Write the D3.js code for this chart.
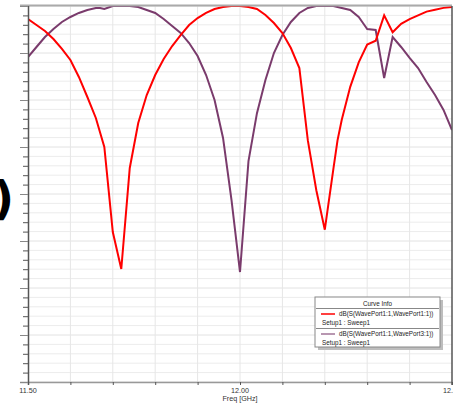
<!DOCTYPE html>
<html><head><meta charset="utf-8">
<script src="https://cdn.jsdelivr.net/npm/d3@7"></script>
<style>
html,body{margin:0;padding:0;background:#fff;overflow:hidden}
svg{display:block;font-family:"Liberation Sans",Arial,sans-serif}
</style></head>
<body>
<script>
// ---- data ----
const freqS11 = [11.50,11.52,11.54,11.56,11.58,11.60,11.62,11.64,11.66,11.68,11.70,11.72,11.74,11.76,11.78,11.80,11.82,11.84,11.86,11.88,11.90,11.92,11.94,11.96,11.98,12.00,12.02,12.04,12.06,12.08,12.10,12.12,12.14,12.16,12.18,12.20,12.22,12.23,12.24,12.26,12.28,12.30,12.32,12.34,12.36,12.38,12.40,12.42,12.44,12.46,12.48,12.50];
const dbS11 = [-1.38,-2.02,-2.66,-3.51,-4.57,-5.74,-7.55,-9.68,-11.91,-15.0,-24.04,-27.98,-17.23,-12.45,-9.47,-7.34,-5.64,-4.26,-3.09,-2.02,-1.28,-0.74,-0.32,-0.11,0,0,-0.11,-0.32,-0.96,-1.81,-2.87,-4.47,-6.6,-14.3,-19.6,-23.8,-17.4,-14.3,-12.1,-8.6,-6.0,-4.1,-3.7,-1.0,-2.8,-1.9,-1.4,-1.0,-0.6,-0.4,-0.2,-0.1];
const freqS31 = [11.50,11.52,11.54,11.56,11.58,11.60,11.62,11.64,11.66,11.67,11.68,11.70,11.72,11.74,11.76,11.78,11.80,11.82,11.84,11.86,11.88,11.90,11.92,11.94,11.96,11.98,12.00,12.02,12.04,12.06,12.08,12.10,12.12,12.14,12.16,12.18,12.20,12.22,12.24,12.26,12.28,12.29,12.30,12.32,12.34,12.36,12.38,12.40,12.42,12.44,12.46,12.48,12.50];
const dbS31 = [-5.43,-4.36,-3.30,-2.45,-1.70,-1.17,-0.74,-0.43,-0.21,-0.21,-0.32,0,0,0,-0.11,-0.43,-0.74,-1.38,-2.13,-2.87,-3.94,-5.32,-7.34,-10.0,-14.04,-20.64,-28.30,-16.5,-11.4,-7.87,-5.0,-3.09,-1.70,-0.74,-0.21,0,0,0,-0.21,-0.43,-1.17,-1.81,-2.45,-2.55,-7.66,-3.30,-4.36,-5.53,-6.60,-8.09,-9.47,-11.06,-13.19];
const xTickLabels = ["11.50","12.00","12.50"];
const xTickValues = [11.5,12.0,12.5];
const seriesNames = ["dB(S(WavePort1:1,WavePort1:1))","dB(S(WavePort1:1,WavePort3:1))"];
const sweepLabel = "Setup1 : Sweep1";
const colors = ["#ff0000","#7a3b6c"];

const W=453,H=405;
const L=28,R=452,T=6,B=382;
const svg=d3.select("body").append("svg").attr("width",W).attr("height",H);
const x=d3.scaleLinear().domain([11.5,12.5]).range([L,R]);
const y=d3.scaleLinear().domain([-40,0]).range([B,T]);

// grid
const g=svg.append("g");
g.selectAll("line.hg").data(d3.range(-40,0.001,1)).join("line")
 .attr("x1",L).attr("x2",R).attr("y1",d=>y(d)).attr("y2",d=>y(d))
 .attr("stroke",d=>d%5===0?"#e2e2e2":"#ececec").attr("stroke-width",1);
g.selectAll("line.vg").data(d3.range(11.6,12.45,0.1)).join("line")
 .attr("y1",T).attr("y2",B).attr("x1",d=>x(d)).attr("x2",d=>x(d))
 .attr("stroke","#e6e6e6").attr("stroke-width",1);

// curves
const line=d3.line().x(d=>x(d[0])).y(d=>y(d[1]));
const clip=svg.append("clipPath").attr("id","c").append("rect").attr("x",L).attr("y",T-2).attr("width",R-L).attr("height",B-T+2);
svg.append("path").datum(freqS31.map((f,i)=>[f,dbS31[i]])).attr("d",line)
 .attr("fill","none").attr("stroke",colors[1]).attr("stroke-width",2).attr("clip-path","url(#c)");
svg.append("path").datum(freqS11.map((f,i)=>[f,dbS11[i]])).attr("d",line)
 .attr("fill","none").attr("stroke",colors[0]).attr("stroke-width",2).attr("clip-path","url(#c)");

// frame
svg.append("line").attr("x1",20).attr("x2",R).attr("y1",T-0.5).attr("y2",T-0.5).attr("stroke","#aaaaaa").attr("stroke-width",2);
svg.append("line").attr("x1",20).attr("x2",R).attr("y1",B+0.5).attr("y2",B+0.5).attr("stroke","#999").attr("stroke-width",1.5);
svg.append("line").attr("x1",R).attr("x2",R).attr("y1",T).attr("y2",B+3).attr("stroke","#555").attr("stroke-width",1.5);

// y axis
const ya=svg.append("g").attr("transform",`translate(${L},0)`)
 .call(d3.axisLeft(y).tickValues(d3.range(-40,0.001,1)).tickSize(0).tickFormat(""));
ya.select(".domain").remove();
svg.append("line").attr("x1",L+0.5).attr("x2",L+0.5).attr("y1",T).attr("y2",B+3).attr("stroke","#555").attr("stroke-width",1.5);
svg.selectAll("line.yt").data(d3.range(-40,0.001,1)).join("line")
 .attr("x1",d=>d%5===0?20:23).attr("x2",L).attr("y1",d=>y(d)+0.5).attr("y2",d=>y(d)+0.5)
 .attr("stroke",d=>d%5===0?"#888":"#555").attr("stroke-width",1);

// x axis
const xa=svg.append("g").attr("transform",`translate(0,${B})`)
 .call(d3.axisBottom(x).tickValues(d3.range(11.5,12.55,0.1)).tickSize(3).tickFormat(""));
xa.select(".domain").remove();
xa.selectAll("line").attr("stroke","#555");
svg.selectAll("text.xl").data(xTickValues).join("text")
 .attr("x",d=>x(d)).attr("y",393).attr("text-anchor","middle")
 .attr("font-size",7.2).attr("fill","#333").text((d,i)=>xTickLabels[i]);
svg.append("text").attr("x",x(12.0)).attr("y",401).attr("text-anchor","middle")
 .attr("font-size",7.2).attr("fill","#333").text("Freq [GHz]");

// clipped y label fragment (cut off at the left edge, as in the reference)
const fr=svg.append("text").attr("x",14).attr("y",214).attr("text-anchor","end").attr("font-size",46).attr("font-family","'DejaVu Sans',sans-serif");
fr.append("tspan").attr("fill","#888").attr("font-size",34).text("l");
fr.append("tspan").attr("fill","#000").attr("font-weight","bold").text(")");

// legend
const lx=315,ly=297,lw=125,lh=50;
svg.append("rect").attr("x",lx+3).attr("y",ly+3).attr("width",lw).attr("height",lh).attr("fill","#bdbdbd");
svg.append("rect").attr("x",lx).attr("y",ly).attr("width",lw).attr("height",lh).attr("fill","#fff").attr("stroke","#888").attr("stroke-width",1);
svg.append("text").attr("x",lx+lw/2).attr("y",ly+8.5).attr("text-anchor","middle").attr("font-size",6.3).attr("fill","#222").text("Curve Info");
[0,1].forEach(i=>{
  const yy=ly+11.5+i*20;
  svg.append("line").attr("x1",lx+1).attr("x2",lx+lw-1).attr("y1",yy).attr("y2",yy).attr("stroke","#888");
  svg.append("line").attr("x1",lx+6).attr("x2",lx+20).attr("y1",yy+5.5).attr("y2",yy+5.5).attr("stroke",colors[i]).attr("stroke-width",1.5).attr("opacity",i?0.7:1);
  svg.append("text").attr("x",lx+24).attr("y",yy+7.5).attr("font-size",6.3).attr("fill","#222").text(seriesNames[i]);
  svg.append("text").attr("x",lx+7).attr("y",yy+16).attr("font-size",6.3).attr("fill","#222").text(sweepLabel);
});
</script>
</body></html>
